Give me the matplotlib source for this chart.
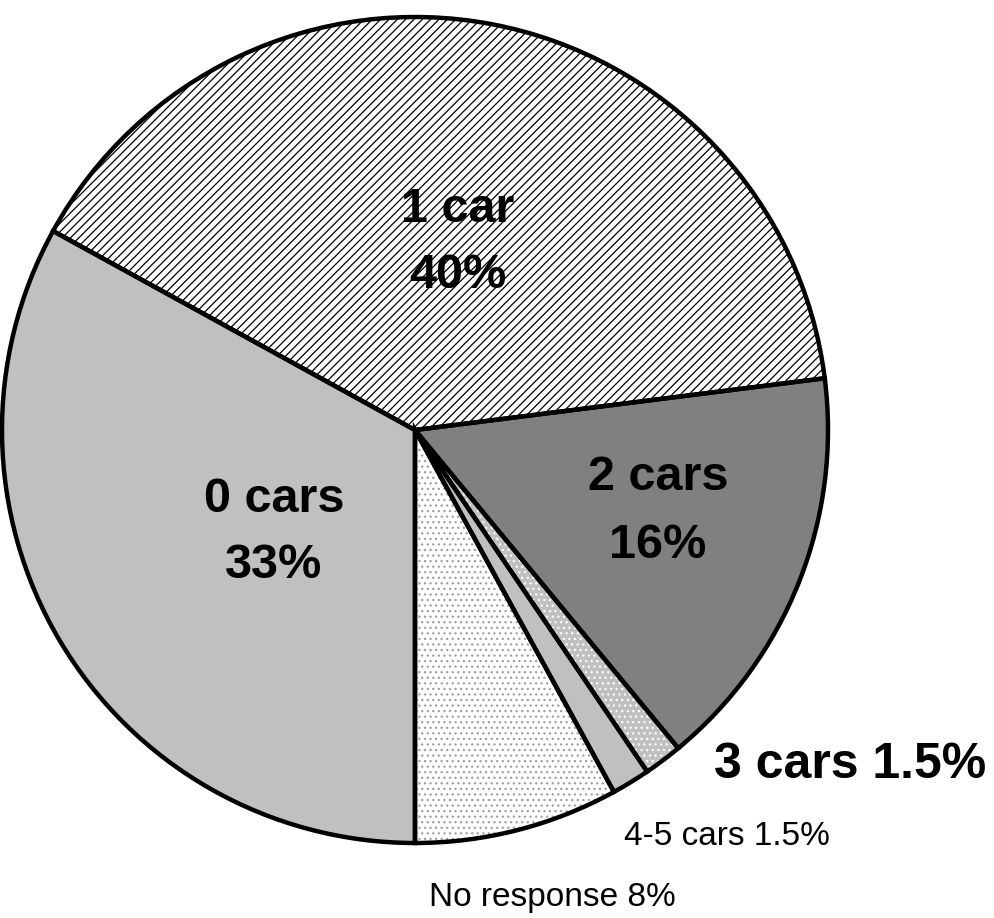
import matplotlib
matplotlib.use("Agg")
import matplotlib.pyplot as plt

categories = ["No response", "4-5 cars", "3 cars", "2 cars", "1 car", "0 cars"]
values = [8, 1.5, 1.5, 16, 40, 33]
pct_labels = ["8%", "1.5%", "1.5%", "16%", "40%", "33%"]

face_colors = ["#FFFFFF", "#C0C0C0", "#C0C0C0", "#808080", "#FFFFFF", "#C0C0C0"]
hatch_colors = ["#A0A0A0", "#C0C0C0", "#FFFFFF", "#808080", "#000000", "#C0C0C0"]
hatches = ["...", None, "...", None, "////", None]

plt.rcParams['font.family'] = ['Liberation Sans', 'DejaVu Sans']
plt.rcParams['hatch.linewidth'] = 0.9

W, H = 994, 918
fig = plt.figure(figsize=(W / 100, H / 100), dpi=100)
ax = fig.add_axes([0, 0, 1, 1])

cx, cy, r = 415, H - 430, 413

wedges, _ = ax.pie(values, colors=face_colors, startangle=270, counterclock=True,
                   center=(cx, cy), radius=r, frame=True,
                   wedgeprops=dict(linewidth=0))
for w, hc, h in zip(wedges, hatch_colors, hatches):
    w.set_edgecolor(hc)
    if h:
        w.set_hatch(h)
ax.pie(values, colors=["none"] * len(values), startangle=270, counterclock=True,
       center=(cx, cy), radius=r, frame=True,
       wedgeprops=dict(linewidth=3.2, edgecolor="black", fill=False))
ax.set_xlim(0, W)
ax.set_ylim(0, H)
ax.set_aspect('equal')
ax.axis('off')

big = 35
# inside labels (baseline y measured in pixels from top)
ax.text(458, H - 222, "1 car", ha='center', va='baseline', fontsize=big, fontweight='bold')
ax.text(458, H - 288, pct_labels[4], ha='center', va='baseline', fontsize=big, fontweight='bold')
ax.text(274, H - 512, "0 cars", ha='center', va='baseline', fontsize=big, fontweight='bold')
ax.text(274, H - 578, pct_labels[5], ha='center', va='baseline', fontsize=big, fontweight='bold')
ax.text(658, H - 490, "2 cars", ha='center', va='baseline', fontsize=big, fontweight='bold')
ax.text(658, H - 558, pct_labels[3], ha='center', va='baseline', fontsize=big, fontweight='bold')
# outside labels
ax.text(850, H - 778, "3 cars " + pct_labels[2], ha='center', va='baseline', fontsize=36, fontweight='bold')
ax.text(727, H - 845, "4-5 cars " + pct_labels[1], ha='center', va='baseline', fontsize=24)
ax.text(552, H - 906, "No response " + pct_labels[0], ha='center', va='baseline', fontsize=24)

fig.savefig("out.png", dpi=100)
